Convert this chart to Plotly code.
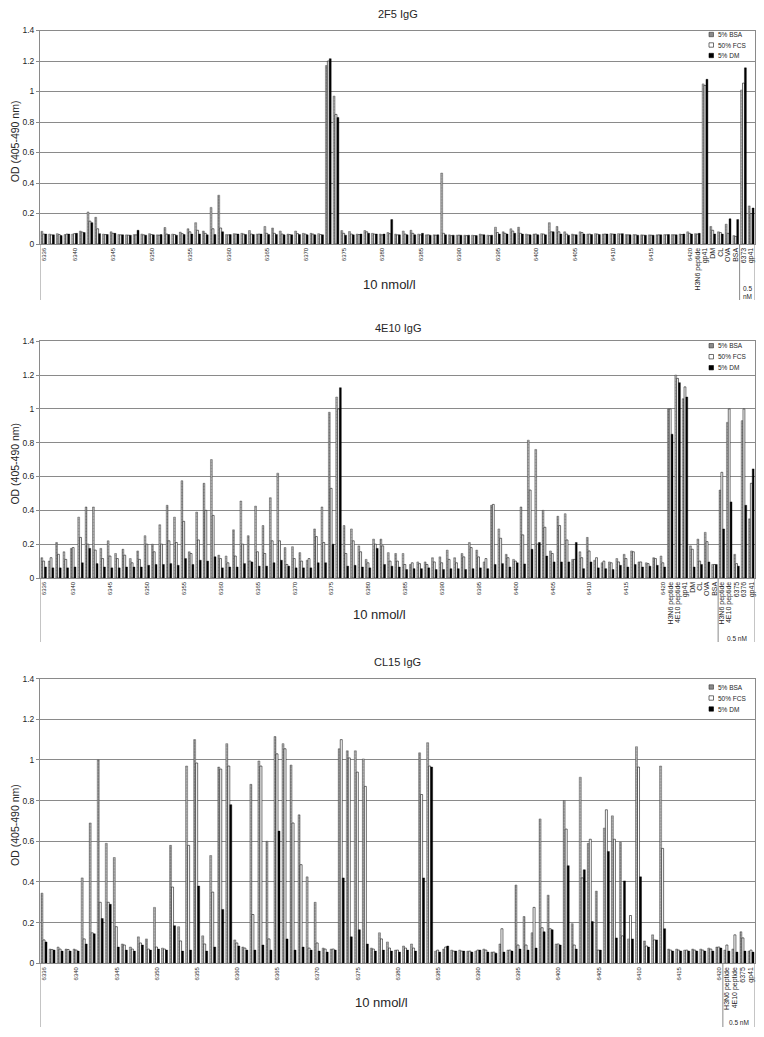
import plotly.graph_objects as go

W, H = 764, 1037
FONT = "Liberation Sans, Arial, sans-serif"

# ---------------- categories ----------------
PEPTIDES = [str(n) for n in range(6336, 6421)]

P1_CTRL_10NM = ["H3N6 peptide", "gp41", "DM", "CL", "OVA", "BSA"]
P1_CTRL_05NM = ["6373", "gp41"]
P2_CTRL_10NM = ["H3N6 peptide", "4E10 peptide", "gp41", "DM", "CL", "OVA", "BSA"]
P2_CTRL_05NM = ["H3N6 peptide", "4E10 peptide", "6375", "6376", "gp41"]
P3_CTRL_10NM = []
P3_CTRL_05NM = ["H3N6 peptide", "4E10 peptide", "6375", "gp41"]

SERIES = ["5% BSA", "50% FCS", "5% DM"]
TITLES = ["2F5 IgG", "4E10 IgG", "CL15 IgG"]
GROUP_10 = "10 nmol/l"
GROUP_05 = "0.5 nM"
Y_TITLE = "OD (405-490 nm)"

# ---------------- values: 2F5 IgG ----------------
P1_BSA = [0.083, 0.065, 0.068, 0.062, 0.065, 0.085, 0.21, 0.175, 0.065, 0.08,
          0.062, 0.06, 0.062, 0.065, 0.068, 0.06, 0.108, 0.065, 0.078, 0.10,
          0.14, 0.085, 0.24, 0.32, 0.062, 0.068, 0.07, 0.088, 0.065, 0.115,
          0.105, 0.085, 0.065, 0.085, 0.07, 0.07, 0.068, 1.17, 0.97, 0.088,
          0.082, 0.065, 0.088, 0.07, 0.065, 0.075, 0.065, 0.085, 0.09, 0.065,
          0.06, 0.06, 0.465, 0.06, 0.058, 0.058, 0.058, 0.065, 0.058, 0.11,
          0.08, 0.10, 0.11, 0.065, 0.065, 0.068, 0.14, 0.115, 0.08, 0.065,
          0.08, 0.065, 0.068, 0.065, 0.068, 0.068, 0.062, 0.062, 0.06, 0.06,
          0.06, 0.062, 0.062, 0.065, 0.08,
          0.068, 1.05, 0.115, 0.08, 0.13, 0.055,
          1.01, 0.25]
P1_FCS = [0.065, 0.06, 0.062, 0.065, 0.068, 0.078, 0.15, 0.10, 0.062, 0.07,
          0.06, 0.058, 0.06, 0.06, 0.062, 0.058, 0.065, 0.062, 0.068, 0.08,
          0.09, 0.07, 0.10, 0.105, 0.06, 0.065, 0.065, 0.065, 0.065, 0.07,
          0.07, 0.065, 0.062, 0.068, 0.065, 0.065, 0.062, 1.20, 0.85, 0.07,
          0.065, 0.062, 0.08, 0.065, 0.06, 0.068, 0.06, 0.065, 0.07, 0.06,
          0.06, 0.058, 0.07, 0.055, 0.058, 0.055, 0.055, 0.06, 0.055, 0.075,
          0.07, 0.085, 0.07, 0.06, 0.065, 0.065, 0.08, 0.08, 0.065, 0.06,
          0.075, 0.065, 0.065, 0.065, 0.065, 0.065, 0.06, 0.06, 0.058, 0.058,
          0.06, 0.06, 0.06, 0.062, 0.07,
          0.065, 1.04, 0.09, 0.075, 0.07, 0.05,
          1.055, 0.20]
P1_DM = [0.065, 0.06, 0.055, 0.065, 0.07, 0.075, 0.14, 0.068, 0.062, 0.07,
         0.06, 0.058, 0.09, 0.058, 0.06, 0.062, 0.062, 0.058, 0.062, 0.065,
         0.065, 0.06, 0.062, 0.08, 0.062, 0.065, 0.062, 0.062, 0.065, 0.062,
         0.062, 0.06, 0.06, 0.062, 0.06, 0.06, 0.06, 1.215, 0.83, 0.058,
         0.06, 0.065, 0.07, 0.065, 0.065, 0.16, 0.06, 0.06, 0.06, 0.07,
         0.058, 0.06, 0.06, 0.058, 0.058, 0.058, 0.055, 0.06, 0.058, 0.065,
         0.065, 0.07, 0.065, 0.06, 0.06, 0.06, 0.08, 0.065, 0.058, 0.06,
         0.065, 0.062, 0.062, 0.065, 0.065, 0.068, 0.06, 0.058, 0.058, 0.058,
         0.06, 0.062, 0.06, 0.065, 0.065,
         0.07, 1.08, 0.065, 0.065, 0.165, 0.16,
         1.155, 0.236]

# ---------------- values: 4E10 IgG ----------------
P2_BSA = [0.12, 0.10, 0.21, 0.155, 0.175, 0.36, 0.42, 0.42, 0.175, 0.22,
          0.145, 0.17, 0.115, 0.16, 0.25, 0.20, 0.315, 0.43, 0.36, 0.575,
          0.155, 0.39, 0.56, 0.70, 0.135, 0.13, 0.285, 0.455, 0.25, 0.425,
          0.31, 0.475, 0.62, 0.18, 0.185, 0.15, 0.105, 0.29, 0.42, 0.98,
          1.07, 0.31, 0.29, 0.19, 0.11, 0.23, 0.23, 0.15, 0.145, 0.145,
          0.08, 0.095, 0.095, 0.12, 0.125, 0.165, 0.12, 0.145, 0.21, 0.165,
          0.095, 0.43, 0.29, 0.14, 0.11, 0.42, 0.815, 0.76, 0.40, 0.16,
          0.365, 0.38, 0.11, 0.155, 0.24, 0.105, 0.09, 0.095, 0.115, 0.14,
          0.16, 0.095, 0.09, 0.12, 0.13,
          1.0, 1.2, 1.06, 0.19, 0.23, 0.27, 0.08,
          0.52, 0.92, 0.14, 0.93, 0.35]
P2_FCS = [0.10, 0.12, 0.14, 0.11, 0.18, 0.24, 0.20, 0.165, 0.115, 0.13,
          0.115, 0.135, 0.09, 0.11, 0.20, 0.155, 0.20, 0.22, 0.21, 0.335,
          0.145, 0.225, 0.40, 0.37, 0.115, 0.09, 0.13, 0.20, 0.10, 0.155,
          0.145, 0.22, 0.22, 0.08, 0.115, 0.10, 0.115, 0.245, 0.21, 0.53,
          1.0, 0.145, 0.22, 0.155, 0.09, 0.20, 0.19, 0.10, 0.10, 0.08,
          0.09, 0.085, 0.08, 0.095, 0.09, 0.11, 0.09, 0.125, 0.18, 0.125,
          0.115, 0.435, 0.235, 0.12, 0.10, 0.255, 0.52, 0.20, 0.30, 0.145,
          0.31, 0.225, 0.11, 0.12, 0.16, 0.12, 0.10, 0.09, 0.095, 0.115,
          0.155, 0.095, 0.085, 0.115, 0.09,
          1.0, 1.18, 1.13, 0.17, 0.10, 0.215, 0.08,
          0.625, 1.0, 0.085, 1.0, 0.56]
P2_DM = [0.065, 0.06, 0.06, 0.06, 0.065, 0.09, 0.175, 0.085, 0.065, 0.06,
         0.06, 0.065, 0.065, 0.065, 0.075, 0.08, 0.08, 0.085, 0.075, 0.115,
         0.08, 0.105, 0.10, 0.125, 0.06, 0.065, 0.065, 0.085, 0.095, 0.07,
         0.07, 0.09, 0.105, 0.07, 0.06, 0.06, 0.06, 0.09, 0.09, 0.20,
         1.125, 0.07, 0.075, 0.065, 0.06, 0.175, 0.08, 0.07, 0.065, 0.05,
         0.055, 0.055, 0.06, 0.05, 0.05, 0.055, 0.055, 0.05, 0.055, 0.06,
         0.055, 0.08, 0.085, 0.065, 0.09, 0.083, 0.17, 0.21, 0.13, 0.095,
         0.095, 0.095, 0.21, 0.055, 0.095, 0.06, 0.055, 0.05, 0.075, 0.065,
         0.08, 0.065, 0.07, 0.075, 0.065,
         0.85, 1.155, 1.07, 0.065, 0.08, 0.095, 0.08,
         0.29, 0.45, 0.07, 0.43, 0.645]

# ---------------- values: CL15 IgG ----------------
P3_BSA = [0.345, 0.07, 0.08, 0.07, 0.07, 0.42, 0.69, 1.0, 0.59, 0.52,
          0.095, 0.08, 0.13, 0.12, 0.275, 0.075, 0.58, 0.18, 0.97, 1.10,
          0.135, 0.53, 0.965, 1.08, 0.115, 0.08, 0.88, 0.995, 0.60, 1.115,
          1.08, 0.975, 0.73, 0.425, 0.30, 0.075, 0.07, 1.055, 1.045, 1.045,
          1.005, 0.075, 0.15, 0.105, 0.065, 0.085, 0.095, 1.035, 1.085, 0.06,
          0.07, 0.065, 0.065, 0.06, 0.06, 0.07, 0.055, 0.095, 0.065, 0.385,
          0.23, 0.15, 0.71, 0.335, 0.095, 0.80, 0.195, 0.915, 0.59, 0.355,
          0.665, 0.725, 0.595, 0.12, 1.065, 0.11, 0.14, 0.97, 0.07, 0.07,
          0.065, 0.07, 0.07, 0.075, 0.08,
          0.065, 0.07, 0.155, 0.06]
P3_FCS = [0.115, 0.068, 0.07, 0.068, 0.065, 0.12, 0.15, 0.30, 0.30, 0.18,
          0.09, 0.07, 0.10, 0.07, 0.08, 0.07, 0.375, 0.11, 0.58, 0.985,
          0.095, 0.35, 0.955, 0.97, 0.10, 0.075, 0.24, 0.97, 0.12, 1.03,
          1.055, 0.69, 0.485, 0.075, 0.10, 0.07, 0.07, 1.10, 1.01, 0.94,
          0.87, 0.07, 0.12, 0.075, 0.065, 0.075, 0.075, 0.83, 0.97, 0.065,
          0.08, 0.06, 0.06, 0.06, 0.065, 0.065, 0.055, 0.17, 0.065, 0.09,
          0.09, 0.275, 0.175, 0.17, 0.095, 0.66, 0.09, 0.42, 0.61, 0.065,
          0.755, 0.61, 0.135, 0.235, 0.965, 0.085, 0.115, 0.565, 0.065, 0.065,
          0.065, 0.065, 0.065, 0.07, 0.08,
          0.09, 0.14, 0.125, 0.065]
P3_DM = [0.105, 0.065, 0.06, 0.06, 0.06, 0.095, 0.145, 0.22, 0.29, 0.08,
         0.065, 0.06, 0.09, 0.065, 0.07, 0.065, 0.185, 0.06, 0.065, 0.38,
         0.06, 0.08, 0.265, 0.78, 0.085, 0.065, 0.065, 0.09, 0.065, 0.65,
         0.12, 0.065, 0.08, 0.065, 0.06, 0.055, 0.065, 0.42, 0.13, 0.165,
         0.095, 0.06, 0.065, 0.06, 0.055, 0.065, 0.06, 0.42, 0.965, 0.055,
         0.085, 0.06, 0.06, 0.055, 0.065, 0.055, 0.05, 0.055, 0.06, 0.07,
         0.065, 0.075, 0.155, 0.165, 0.09, 0.48, 0.07, 0.46, 0.205, 0.065,
         0.55, 0.125, 0.405, 0.12, 0.425, 0.08, 0.115, 0.17, 0.06, 0.06,
         0.06, 0.06, 0.06, 0.06, 0.075,
         0.06, 0.055, 0.06, 0.055]

PANELS = [
    (TITLES[0], P1_CTRL_10NM, P1_CTRL_05NM, P1_BSA, P1_FCS, P1_DM),
    (TITLES[1], P2_CTRL_10NM, P2_CTRL_05NM, P2_BSA, P2_FCS, P2_DM),
    (TITLES[2], P3_CTRL_10NM, P3_CTRL_05NM, P3_BSA, P3_FCS, P3_DM),
]

# ---------------- layout (pixel geometry) ----------------
PLOT_L, PLOT_R = 40, 755
# top, bottom, label-area bottom, title y, "10 nmol/l" y, "0.5 nM" y, legend rows
GEOM = [
    (30.5, 244.0, 300, 14, 284, 292, (34.5, 45.0, 55.5)),
    (341.2, 578.0, 642, 328, 614, 638, (345.7, 356.7, 367.7)),
    (678.6, 963.3, 1027, 662, 1002, 1022, (687.0, 698.0, 709.0)),
]

GRID = "#8a8a8a"
TXT = "#262626"


def pxx(p):
    return p / W


def pxy(p):
    return 1 - p / H


BAR_STYLES = [
    dict(color="#8e8e8e",
         pattern=dict(shape=".", fgcolor="#2e2e2e", bgcolor="#bdbdbd", size=3, solidity=0.45),
         line=dict(color="#3a3a3a", width=0.4)),
    dict(color="#ffffff", line=dict(color="#111111", width=0.6)),
    dict(color="#000000", line=dict(color="#000000", width=0.4)),
]
SWATCH = [("#8a8a8a", "#333333"), ("#ffffff", "#111111"), ("#000000", "#000000")]

fig = go.Figure()
shapes, annotations = [], []
layout_axes = {}

for i, (title, c10, c05, bsa, fcs, dm) in enumerate(PANELS):
    k = i + 1
    top, bot, lab_bot, ty, g10y, g05y, legrows = GEOM[i]
    labels = PEPTIDES + c10 + c05
    n = len(labels)
    assert len(bsa) == n and len(fcs) == n and len(dm) == n, (k, n, len(bsa), len(fcs), len(dm))
    xs = list(range(n))
    xname = "x" if k == 1 else f"x{k}"
    yname = "y" if k == 1 else f"y{k}"

    for s, vals in enumerate([bsa, fcs, dm]):
        fig.add_trace(go.Bar(x=xs, y=vals, name=SERIES[s], xaxis=xname, yaxis=yname,
                             marker=BAR_STYLES[s], showlegend=False,
                             offsetgroup=str(s)))

    tickvals, ticktext = [], []
    for j, lab in enumerate(labels):
        if j >= len(PEPTIDES):
            tickvals.append(j)
            ticktext.append(lab)
        elif lab == PEPTIDES[0] or int(lab) % 5 == 0:
            tickvals.append(j)
            ticktext.append(f"<span style='font-size:6px'>{lab}</span>")

    sep = len(PEPTIDES) + len(c10)

    layout_axes["xaxis" if k == 1 else f"xaxis{k}"] = dict(
        domain=[pxx(PLOT_L), pxx(PLOT_R)], anchor=yname, automargin=False,
        range=[-0.5, n - 0.5], tickmode="array", tickvals=tickvals, ticktext=ticktext,
        tickangle=-90, tickfont=dict(size=7, color=TXT, family=FONT),
        showgrid=False, zeroline=False, showline=True, mirror=True,
        linecolor=GRID, linewidth=1, ticks="", fixedrange=True)
    layout_axes["yaxis" if k == 1 else f"yaxis{k}"] = dict(
        domain=[pxy(bot), pxy(top)], anchor=xname, automargin=False,
        range=[0, 1.4], tick0=0, dtick=0.2, tickmode="linear",
        showgrid=True, gridcolor=GRID, gridwidth=1, zeroline=False,
        showline=True, mirror=True, linecolor=GRID, linewidth=1,
        ticks="outside", ticklen=3, tickcolor=GRID, fixedrange=True,
        tickfont=dict(size=8.5, color=TXT, family=FONT))

    # y-axis title
    annotations.append(dict(text=Y_TITLE, xref="paper", yref="paper",
                            x=pxx(15), y=pxy((top + bot) / 2 + 4), textangle=-90,
                            showarrow=False, xanchor="center", yanchor="middle",
                            font=dict(size=10.5, color=TXT, family=FONT)))

    # category-axis frame lines extending into the label area
    for xv in (-0.5, sep - 0.5, n - 0.5):
        shapes.append(dict(type="line", xref=xname, yref="paper", x0=xv, x1=xv,
                           y0=pxy(bot), y1=pxy(lab_bot), line=dict(color=GRID, width=1)))

    # panel title
    annotations.append(dict(text=title, xref="paper", yref="paper",
                            x=pxx((PLOT_L + PLOT_R) / 2), y=pxy(ty), showarrow=False,
                            xanchor="center", yanchor="middle",
                            font=dict(size=11, color=TXT, family=FONT)))
    # group labels
    if sep > 0:
        annotations.append(dict(text=GROUP_10, xref=xname, yref="paper",
                                x=(sep - 1) / 2, y=pxy(g10y), showarrow=False,
                                xanchor="center", yanchor="middle",
                                font=dict(size=13, color=TXT, family=FONT)))
    g05 = GROUP_05.replace(" ", "<br>") if len(c05) <= 2 else GROUP_05
    annotations.append(dict(text=g05, xref=xname, yref="paper",
                            x=(sep + n - 1) / 2, y=pxy(g05y), showarrow=False,
                            xanchor="center", yanchor="middle",
                            font=dict(size=6.5, color=TXT, family=FONT)))
    # legend (drawn per panel, compact like the original)
    for s, row in enumerate(legrows):
        fc, lc = SWATCH[s]
        shapes.append(dict(type="rect", xref="paper", yref="paper",
                           x0=pxx(709), x1=pxx(713.5), y0=pxy(row + 2.2), y1=pxy(row - 2.2),
                           fillcolor=fc, line=dict(color=lc, width=0.6)))
        annotations.append(dict(text=SERIES[s], xref="paper", yref="paper",
                                x=pxx(716), y=pxy(row), showarrow=False,
                                xanchor="left", yanchor="middle",
                                font=dict(size=6.5, color=TXT, family=FONT)))

fig.update_layout(
    width=W, height=H, margin=dict(l=0, r=0, t=0, b=0, pad=0),
    paper_bgcolor="white", plot_bgcolor="white",
    barmode="group", bargap=0.25, bargroupgap=0.0,
    showlegend=False, font=dict(family=FONT, color=TXT),
    shapes=shapes, annotations=annotations,
    **layout_axes,
)

# remove the browser's default page margin so the figure sits at the window origin
PAGE_CSS_JS = ("document.documentElement.style.margin='0';"
               "document.documentElement.style.overflow='hidden';"
               "document.body.style.margin='0';"
               "document.body.style.overflow='hidden';")

fig.write_html("out.html", post_script=PAGE_CSS_JS,
               config={"displayModeBar": False, "staticPlot": True})
